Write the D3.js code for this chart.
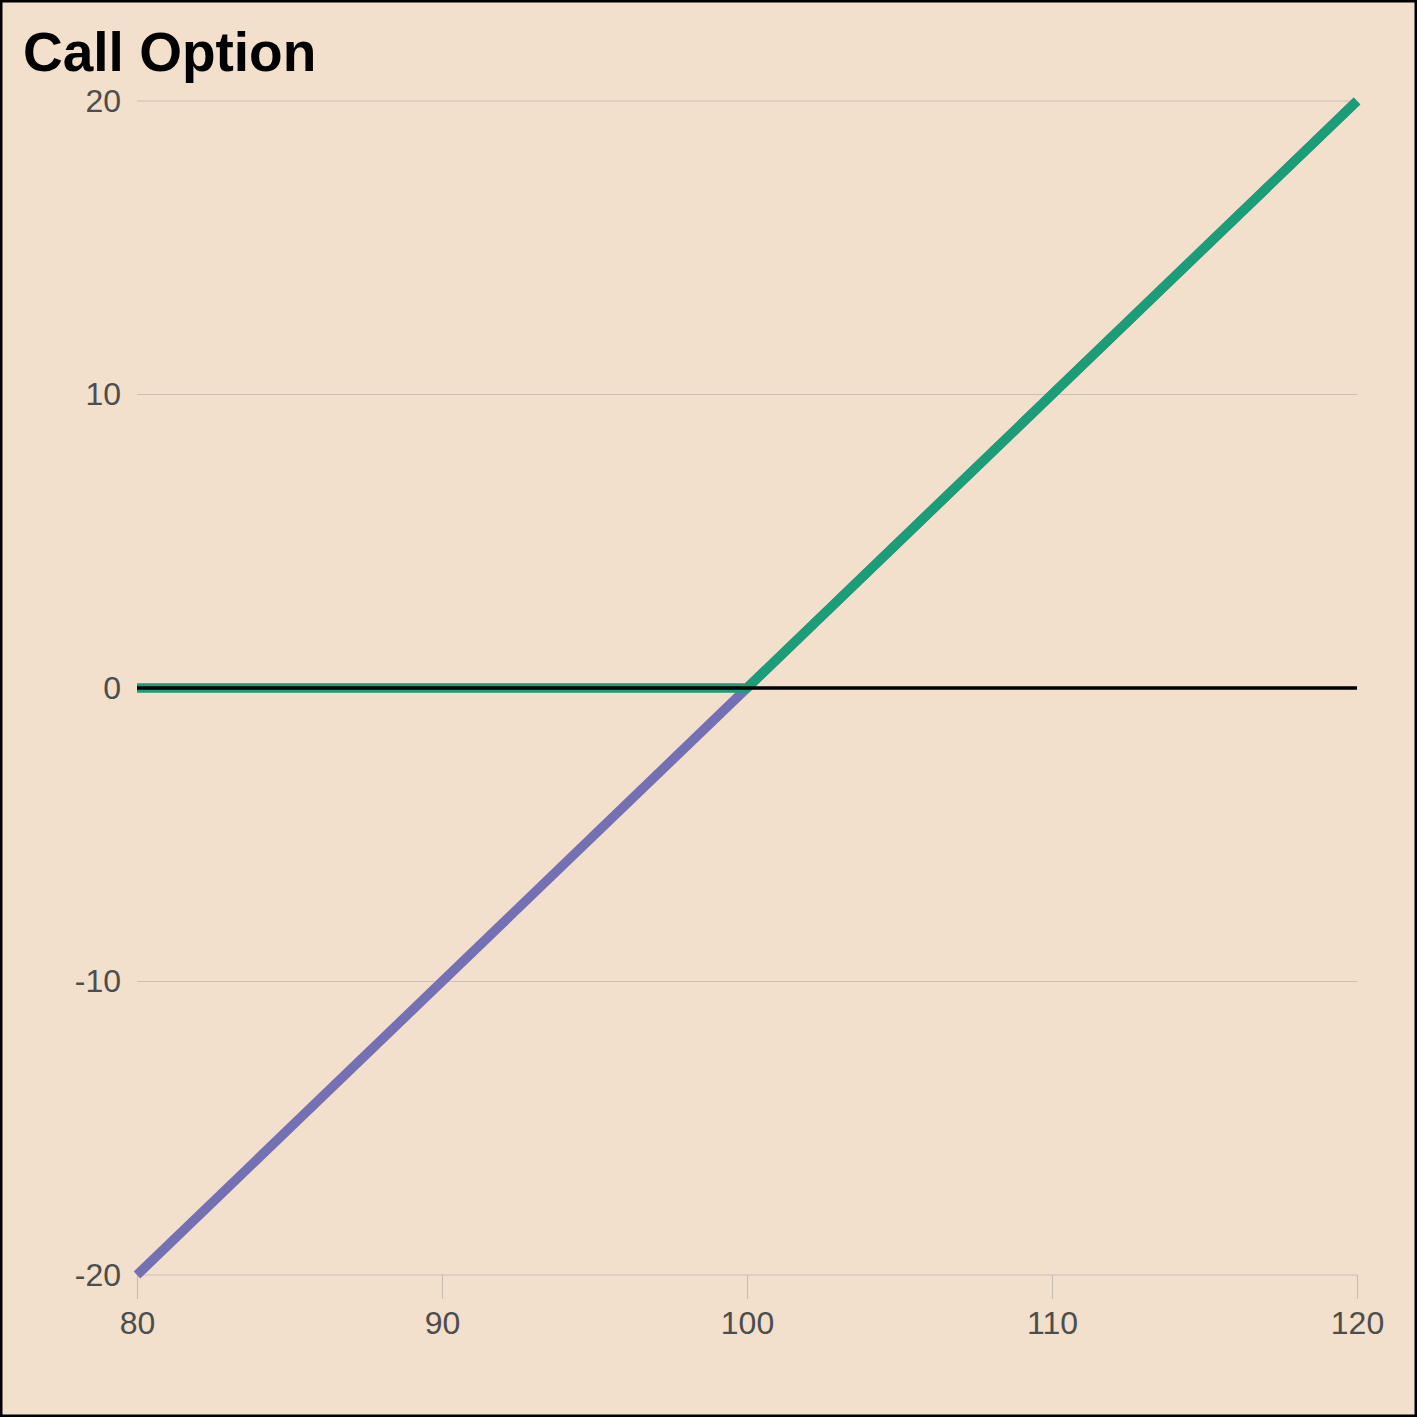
<!DOCTYPE html>
<html><head><meta charset="utf-8">
<script src="https://cdn.jsdelivr.net/npm/d3@7"></script>
<style>html,body{margin:0;padding:0;background:#F2DFCC;}svg{display:block;}</style>
</head><body>
<script>
const title = "Call Option";
const spot = [80, 100, 120];
const underlying = [-20, 0, 20];   // purple
const payoff = [0, 0, 20];          // green
const xTicks = [80, 90, 100, 110, 120];
const yTicks = [-20, -10, 0, 10, 20];
const hline = 0;

const W = 1417, H = 1417;
const m = {left: 137, right: W - 1357, top: 101, bottom: H - 1275};
const svg = d3.select("body").append("svg").attr("width", W).attr("height", H);
svg.append("rect").attr("x",1).attr("y",1).attr("width",W-2).attr("height",H-2)
  .attr("fill","#F2DFCC").attr("stroke","#000").attr("stroke-width",3);

const x = d3.scaleLinear().domain([80,120]).range([m.left, W - m.right]);
const y = d3.scaleLinear().domain([-20,20]).range([H - m.bottom, m.top]);

// grid
svg.append("g").selectAll("line").data(yTicks).join("line")
  .attr("x1", x(80)).attr("x2", x(120)).attr("y1", d=>y(d)).attr("y2", d=>y(d))
  .attr("stroke", "#C9BFB7").attr("stroke-width", 1.2);

const fmt = d => String(d);
// x axis
const xa = svg.append("g").attr("transform", `translate(0,${y(-20)})`)
  .call(d3.axisBottom(x).tickValues(xTicks).tickFormat(fmt).tickSize(24).tickPadding(12));
xa.select(".domain").remove();
xa.selectAll("line").attr("stroke","#C9BFB7").attr("stroke-width",1.2);
xa.selectAll("text").attr("fill","#4D4D4D").attr("font-size",32).attr("font-family","Liberation Sans, Arial, sans-serif");

// y axis labels
const ya = svg.append("g").attr("transform", `translate(${x(80)},0)`)
  .call(d3.axisLeft(y).tickValues(yTicks).tickFormat(fmt).tickSize(0).tickPadding(16));
ya.select(".domain").remove();
ya.selectAll("text").attr("fill","#4D4D4D").attr("font-size",32).attr("font-family","Liberation Sans, Arial, sans-serif");

const line = d3.line().x(d=>x(d[0])).y(d=>y(d[1]));
svg.append("path").datum(spot.map((s,i)=>[s, underlying[i]])).attr("d", line)
  .attr("fill","none").attr("stroke","#7570B3").attr("stroke-width",9.5);
svg.append("path").datum(spot.map((s,i)=>[s, payoff[i]])).attr("d", line)
  .attr("fill","none").attr("stroke","#1B9E77").attr("stroke-width",9.5).attr("stroke-linejoin","round");
svg.append("line").attr("x1", x(80)).attr("x2", x(120)).attr("y1", y(hline)).attr("y2", y(hline))
  .attr("stroke","#000").attr("stroke-width",3.5);

svg.append("text").attr("x", 23).attr("y", 71).text(title)
  .attr("font-family","Liberation Sans, Arial, sans-serif").attr("font-weight","bold")
  .attr("font-size",55).attr("fill","#000");
</script>
</body></html>
